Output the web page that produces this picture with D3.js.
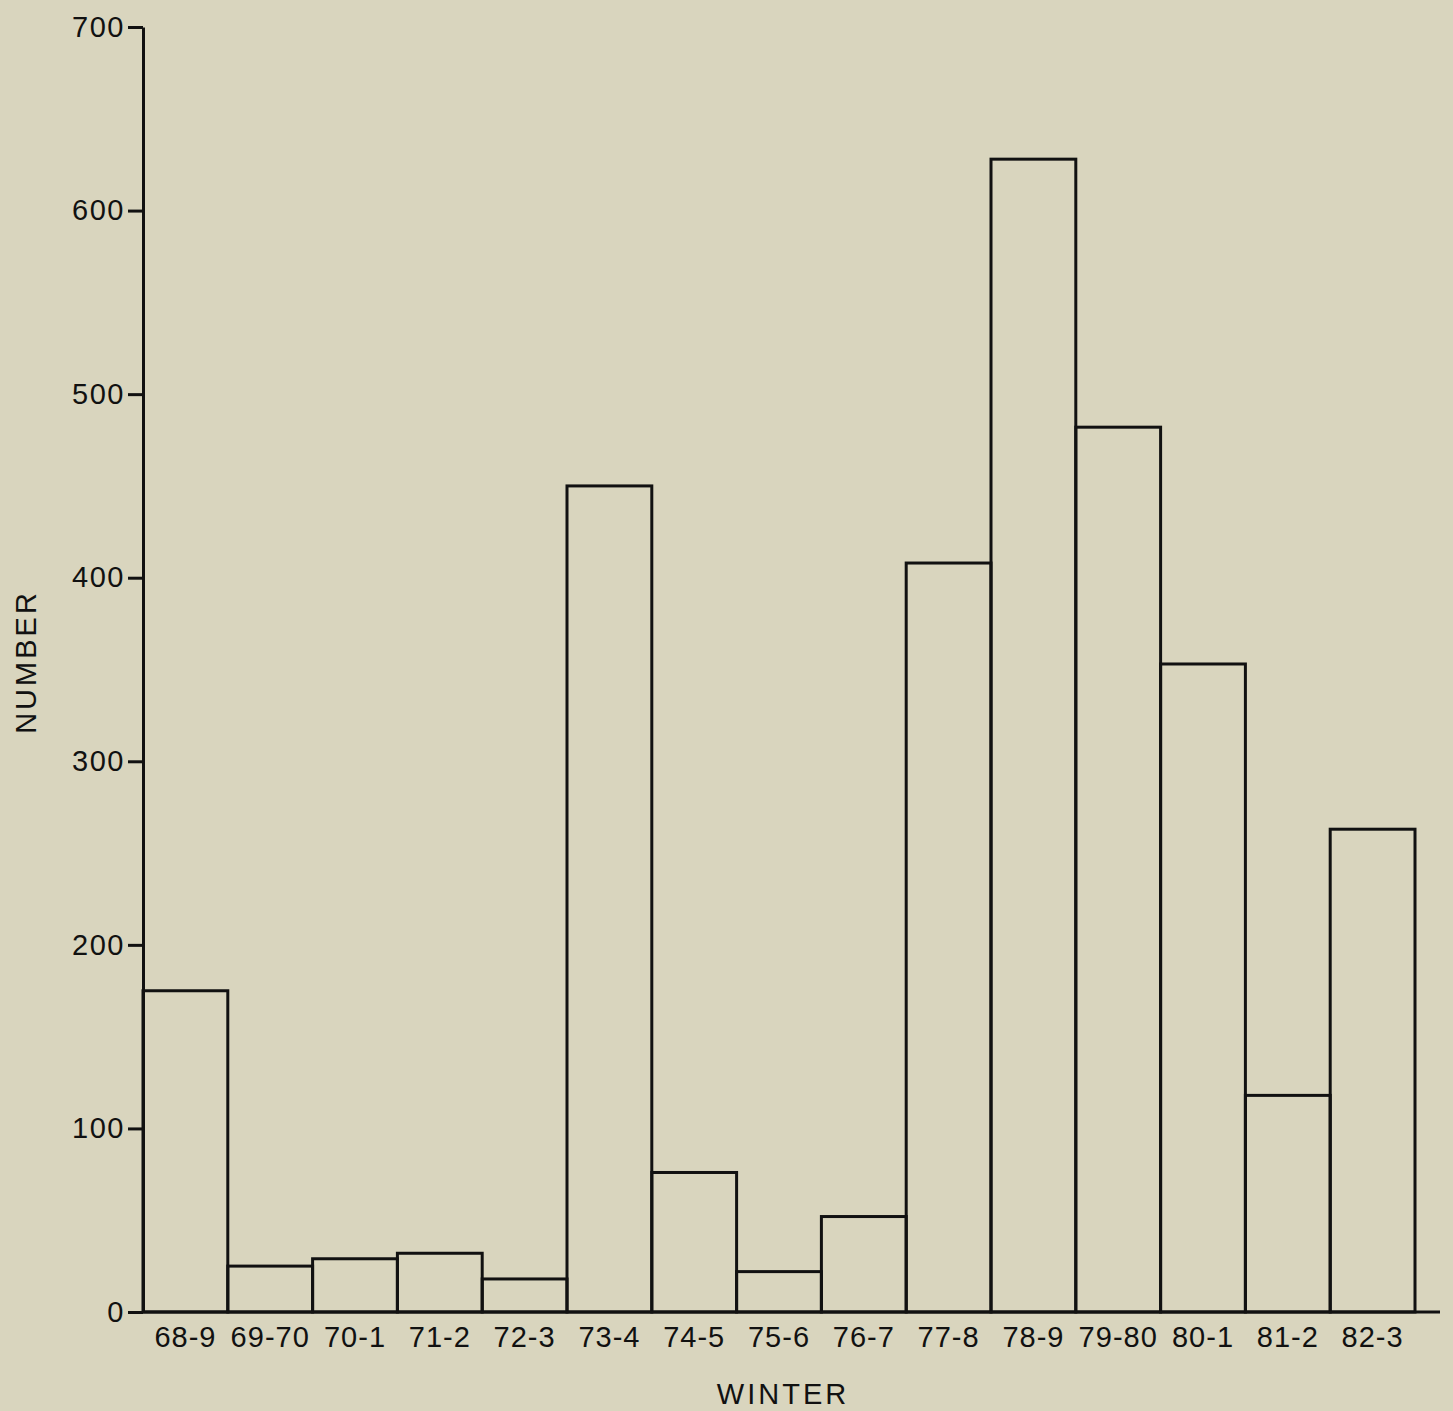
<!DOCTYPE html>
<html><head><meta charset="utf-8">
<script src="https://cdn.jsdelivr.net/npm/d3@7"></script>
<style>html,body{margin:0;padding:0;background:#d9d5be;}</style>
</head><body>
<script>
const categories = ["68-9","69-70","70-1","71-2","72-3","73-4","74-5","75-6","76-7","77-8","78-9","79-80","80-1","81-2","82-3"];
const values = [175,25,29,32,18,450,76,22,52,408,628,482,353,118,263];
const yTicks = [0,100,200,300,400,500,600,700];
const xTitle = "WINTER";
const yTitle = "NUMBER";

const W = 1453, H = 1411;
const svg = d3.select("body").append("svg").attr("width", W).attr("height", H);
svg.append("rect").attr("width", W).attr("height", H).attr("fill", "#d9d5be");

const x0 = 143, x1 = 1415, y0 = 1312, y1 = 27;
const x = d3.scaleBand().domain(categories).range([x0, x1]).padding(0);
const y = d3.scaleLinear().domain([0, 700]).range([y0, y1]);
const font = "Helvetica, 'Liberation Sans', Arial, sans-serif";

// bars
svg.append("g").selectAll("rect").data(values).join("rect")
  .attr("x", (d,i) => x(categories[i]))
  .attr("y", d => y(d))
  .attr("width", x.bandwidth())
  .attr("height", d => y(0) - y(d))
  .attr("fill", "none").attr("stroke", "#111").attr("stroke-width", 3);

// y axis
const ya = svg.append("g").attr("transform", `translate(${x0},0)`)
  .call(d3.axisLeft(y).tickValues(yTicks).tickSize(15).tickPadding(3).tickSizeOuter(0));
ya.select(".domain").attr("stroke", "#111").attr("stroke-width", 3);
ya.selectAll(".tick line").attr("stroke", "#111").attr("stroke-width", 3);
ya.selectAll(".tick text").attr("font-family", font).attr("font-size", 29)
  .attr("letter-spacing", 1.5).attr("fill", "#111");

// x axis baseline
svg.append("line").attr("x1", x0).attr("x2", 1440).attr("y1", y0).attr("y2", y0)
  .attr("stroke", "#111").attr("stroke-width", 3);
const xa = svg.append("g").attr("transform", `translate(0,${y0})`)
  .call(d3.axisBottom(x).tickSize(0).tickPadding(14));
xa.select(".domain").remove();
xa.selectAll(".tick text").attr("font-family", font).attr("font-size", 29)
  .attr("letter-spacing", 1).attr("fill", "#111");

svg.append("text").attr("x", 783).attr("y", 1404).attr("text-anchor", "middle")
  .attr("font-family", font).attr("font-size", 29).attr("letter-spacing", 3).attr("fill", "#111").text(xTitle);
svg.append("text").attr("transform", "translate(36,662) rotate(-90)").attr("text-anchor", "middle")
  .attr("font-family", font).attr("font-size", 29).attr("letter-spacing", 3).attr("fill", "#111").text(yTitle);
</script>
</body></html>
